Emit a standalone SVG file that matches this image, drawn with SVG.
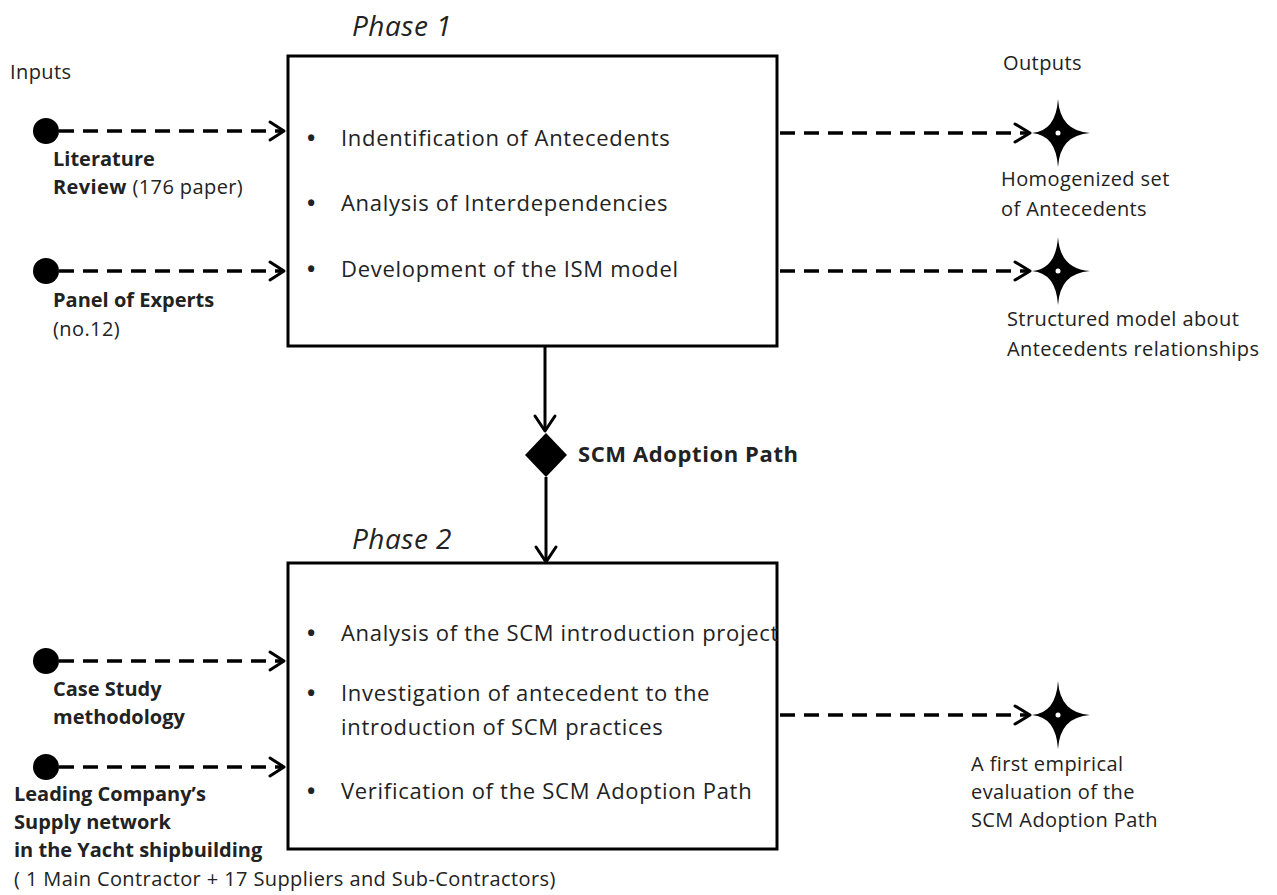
<svg xmlns="http://www.w3.org/2000/svg" width="1277" height="895" viewBox="0 0 1277 895">
<style>
text{font-family:"Open Sans","Liberation Sans",sans-serif;fill:#222;}
.t{font-size:22px;letter-spacing:0.7px;}
.bl{font-size:22px;font-weight:bold;}
.s{font-size:20px;letter-spacing:0.4px;}
.b{font-weight:bold;letter-spacing:0px;}
.sp{font-size:22px;font-weight:bold;letter-spacing:0.6px;}
.ph{font-size:28px;font-style:italic;letter-spacing:0.5px;}
.box{fill:#fff;stroke:#000;stroke-width:3;}
.dash{stroke:#000;stroke-width:3.5;stroke-dasharray:15 9;fill:none;}
.solid{stroke:#000;stroke-width:3;fill:none;}
.head{stroke:#000;stroke-width:3;fill:none;stroke-linecap:round;stroke-linejoin:round;}
</style>
<defs>
<path id="star" d="M0,-34 Q2,-2 32,0 Q2,2 0,34 Q-2,2 -26,0 Q-2,-2 0,-34 Z" fill="#000"/>
</defs>
<rect width="1277" height="895" fill="#fff"/>

<text class="ph" x="352" y="36">Phase 1</text>
<text class="ph" x="352" y="549">Phase 2</text>
<text class="s" x="10" y="79">Inputs</text>
<text class="s" x="1003" y="70">Outputs</text>

<g id="phase1">
<rect class="box" x="288" y="56" width="489" height="290"/>
<text class="bl" x="307" y="146">•</text><text class="t" x="341" y="146">Indentification of Antecedents</text>
<text class="bl" x="307" y="211">•</text><text class="t" x="341" y="211">Analysis of Interdependencies</text>
<text class="bl" x="307" y="277">•</text><text class="t" x="341" y="277">Development of the ISM model</text>
</g>

<g id="phase2">
<rect class="box" x="288" y="563" width="489" height="286"/>
<text class="bl" x="307" y="641">•</text><text class="t" x="341" y="641">Analysis of the SCM introduction project</text>
<text class="bl" x="307" y="701">•</text><text class="t" x="341" y="701">Investigation of antecedent to the</text>
<text class="t" x="341" y="735">introduction of SCM practices</text>
<text class="bl" x="307" y="799">•</text><text class="t" x="341" y="799">Verification of the SCM Adoption Path</text>
</g>

<g id="in-literature">
<circle cx="46" cy="131" r="13" fill="#000"/>
<text class="s b" x="53" y="166">Literature</text>
<text class="s" x="53" y="194"><tspan font-weight="bold">Review</tspan> (176 paper)</text>
</g>
<g id="in-panel">
<circle cx="46" cy="271" r="13" fill="#000"/>
<text class="s b" x="53" y="307">Panel of Experts</text>
<text class="s" x="53" y="336">(no.12)</text>
</g>
<g id="in-case">
<circle cx="46" cy="661" r="13" fill="#000"/>
<text class="s b" x="53" y="696">Case Study</text>
<text class="s b" x="53" y="724">methodology</text>
</g>
<g id="in-leading">
<circle cx="46" cy="767" r="13" fill="#000"/>
<text class="s b" x="14" y="801">Leading Company’s</text>
<text class="s b" x="14" y="829">Supply network</text>
<text class="s b" x="14" y="857">in the Yacht shipbuilding</text>
<text class="s" x="14" y="886">( 1 Main Contractor + 17 Suppliers  and Sub-Contractors)</text>
</g>

<g id="out-homog">
<use href="#star" x="1058" y="133"/>
<circle cx="1058" cy="133" r="2.5" fill="#fff"/>
<text class="s" x="1001" y="186">Homogenized set</text>
<text class="s" x="1001" y="216">of Antecedents</text>
</g>
<g id="out-structured">
<use href="#star" x="1058" y="271"/>
<circle cx="1058" cy="271" r="2.5" fill="#fff"/>
<text class="s" x="1007" y="326">Structured model about</text>
<text class="s" x="1007" y="356">Antecedents relationships</text>
</g>
<g id="out-empirical">
<use href="#star" x="1058" y="715"/>
<circle cx="1058" cy="715" r="2.5" fill="#fff"/>
<text class="s" x="971" y="771">A first empirical</text>
<text class="s" x="971" y="799">evaluation of the</text>
<text class="s" x="971" y="827">SCM Adoption  Path</text>
</g>

<g id="scm-path">
<path d="M546,433 L567,455 L546,477 L525,455 Z" fill="#000"/>
<text class="sp" x="578" y="462">SCM Adoption Path</text>
</g>

<g id="connectors">
<line class="dash" x1="59" y1="131" x2="282" y2="131"/>
<path class="head" d="M270,122 L284,131 L270,140"/>
<line class="dash" x1="59" y1="271" x2="282" y2="271"/>
<path class="head" d="M270,262 L284,271 L270,280"/>
<line class="dash" x1="59" y1="661" x2="282" y2="661"/>
<path class="head" d="M270,652 L284,661 L270,670"/>
<line class="dash" x1="59" y1="767" x2="282" y2="767"/>
<path class="head" d="M270,758 L284,767 L270,776"/>

<line class="dash" x1="780" y1="133" x2="1028" y2="133"/>
<path class="head" d="M1015,124 L1030,133 L1015,142"/>
<line class="dash" x1="780" y1="271" x2="1028" y2="271"/>
<path class="head" d="M1015,262 L1030,271 L1015,280"/>
<line class="dash" x1="780" y1="715" x2="1028" y2="715"/>
<path class="head" d="M1015,706 L1030,715 L1015,724"/>

<line class="solid" x1="545" y1="346" x2="545" y2="430"/>
<path class="head" d="M535,416 L545,431 L555,416"/>
<line class="solid" x1="546" y1="477" x2="546" y2="561"/>
<path class="head" d="M536,547 L546,562 L556,547"/>
</g>
</svg>
